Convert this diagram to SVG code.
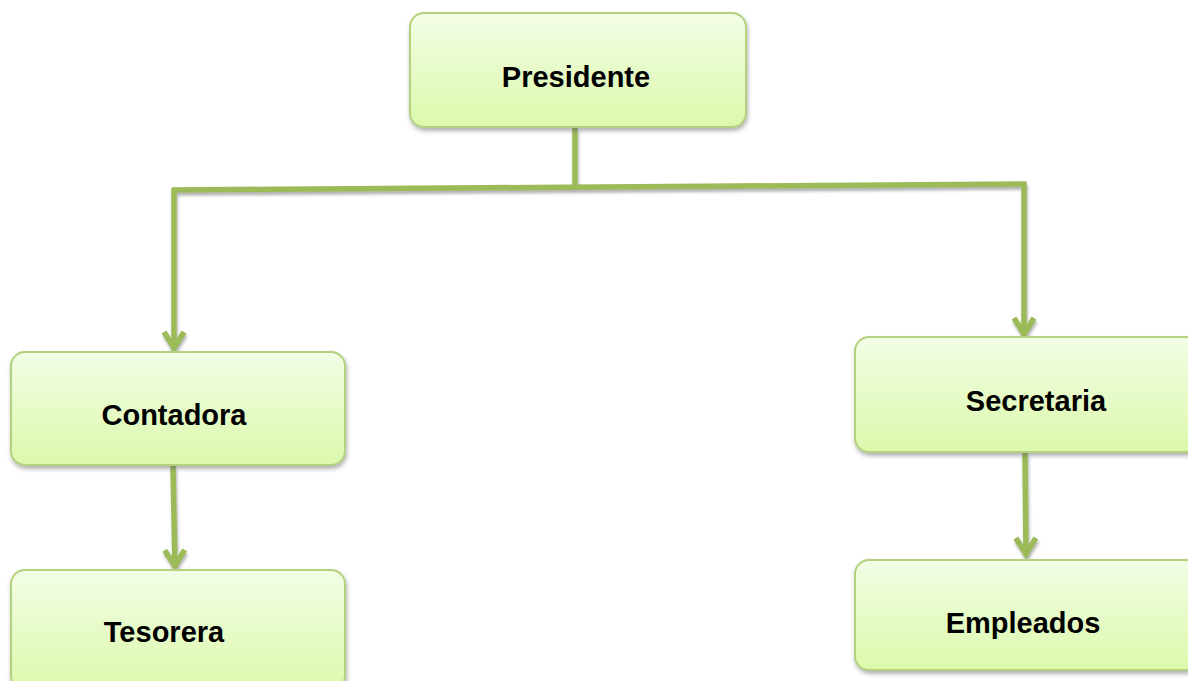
<svg xmlns="http://www.w3.org/2000/svg" width="1188" height="681" viewBox="0 0 1188 681">
<defs>
<linearGradient id="g" x1="0" y1="0" x2="0" y2="1">
<stop offset="0" stop-color="#f3fde6"/>
<stop offset="1" stop-color="#dbf9ab"/>
</linearGradient>
<filter id="sh" x="-10%" y="-10%" width="120%" height="130%">
<feDropShadow dx="1" dy="3" stdDeviation="2" flood-color="#555" flood-opacity="0.45"/>
</filter>
<filter id="lsh" filterUnits="userSpaceOnUse" x="0" y="0" width="1188" height="681">
<feDropShadow dx="1" dy="3" stdDeviation="1.5" flood-color="#555" flood-opacity="0.45"/>
</filter>
<marker id="ah" viewBox="0 0 24 26" refX="21" refY="13" markerWidth="24" markerHeight="26" markerUnits="userSpaceOnUse" orient="auto">
<path d="M3,3 L19,13 L3,23" fill="none" stroke="#9bbb59" stroke-width="5.5" stroke-linejoin="miter"/>
</marker>
<style>
.box{fill:url(#g);stroke:#b3d17f;stroke-width:2;filter:url(#sh)}
.lbl{font-family:"Liberation Sans",Arial,sans-serif;font-weight:bold;font-size:29px;fill:#000;text-anchor:middle}
.ln{fill:none;stroke:#9bbb59;stroke-width:5.5}
</style>
</defs>
<g id="connectors" filter="url(#lsh)">
<line class="ln" x1="575" y1="128" x2="575" y2="186"/>
<line class="ln" x1="172" y1="190" x2="1026" y2="184"/>
<line class="ln" x1="174" y1="188" x2="174" y2="350" marker-end="url(#ah)"/>
<line class="ln" x1="1024" y1="182" x2="1024" y2="336" marker-end="url(#ah)"/>
<line class="ln" x1="173" y1="466" x2="175" y2="568" marker-end="url(#ah)"/>
<line class="ln" x1="1025" y1="453" x2="1026" y2="556" marker-end="url(#ah)"/>
</g>
<g id="presidente">
<rect class="box" x="410" y="13" width="336" height="114" rx="14"/>
<text class="lbl" x="576" y="87">Presidente</text>
</g>
<g id="contadora">
<rect class="box" x="11" y="352" width="334" height="113" rx="14"/>
<text class="lbl" x="174" y="425">Contadora</text>
</g>
<g id="tesorera">
<rect class="box" x="11" y="570" width="334" height="120" rx="14"/>
<text class="lbl" x="164" y="642">Tesorera</text>
</g>
<g id="secretaria">
<rect class="box" x="855" y="337" width="345" height="115" rx="14"/>
<text class="lbl" x="1036" y="411">Secretaria</text>
</g>
<g id="empleados">
<rect class="box" x="855" y="560" width="345" height="110" rx="14"/>
<text class="lbl" x="1023" y="633">Empleados</text>
</g>
</svg>
